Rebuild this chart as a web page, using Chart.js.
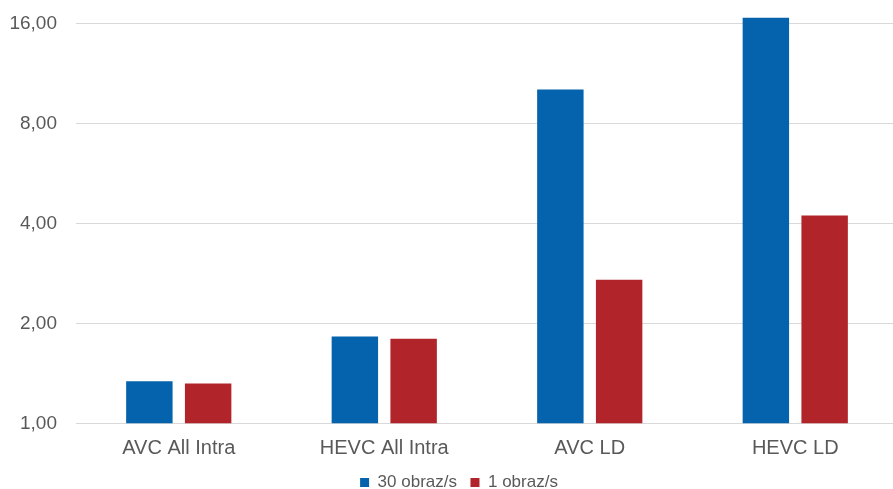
<!DOCTYPE html>
<html>
<head>
<meta charset="utf-8">
<script src="https://cdn.jsdelivr.net/npm/chart.js@4/dist/chart.umd.min.js"></script>
<style>
  html, body { margin: 0; padding: 0; background: #ffffff; overflow: hidden; }
  #wrap { position: relative; width: 917px; height: 536px; margin-top: -31px; }
</style>
</head>
<body>
<div id="wrap"><canvas id="chart"></canvas></div>
<script>
// Categories (encoding configurations)
const categories = ['AVC All Intra', 'HEVC All Intra', 'AVC LD', 'HEVC LD'];

// Series values
const fps30 = [1.34, 1.83, 10.15, 16.7];
const fps1 = [1.32, 1.80, 2.71, 4.23];

// Series names
const seriesNames = ['30 obraz/s', '1 obraz/s'];

// Y-axis tick values and their labels
const tickValues = [1, 2, 4, 8, 16];
const tickLabels = ['1,00', '2,00', '4,00', '8,00', '16,00'];

const textColor = '#595959';
const gridColor = '#d9d9d9';
const fontFamily = '"Liberation Sans", Arial, sans-serif';

// Nudges the legend a little to the right of the layout centre
const legendShift = {
  id: 'legendShift',
  afterLayout(chart) {
    const lg = chart.legend;
    if (lg) { lg.left += 10; lg.right += 10; }
  }
};

new Chart(document.getElementById('chart'), {
  type: 'bar',
  data: {
    labels: categories,
    datasets: [
      { label: seriesNames[0], data: fps30, backgroundColor: '#0563ad' },
      { label: seriesNames[1], data: fps1, backgroundColor: '#b0242a' }
    ]
  },
  plugins: [legendShift],
  options: {
    responsive: true,
    maintainAspectRatio: false,
    animation: false,
    devicePixelRatio: 1,
    layout: { padding: { top: 0, right: 19, bottom: 4, left: 0 } },
    datasets: { bar: { categoryPercentage: 0.572, barPercentage: 0.79 } },
    plugins: {
      tooltip: { enabled: false },
      legend: {
        position: 'bottom',
        labels: {
          color: textColor,
          font: { family: fontFamily, size: 17 },
          boxWidth: 9,
          boxHeight: 9,
          padding: 13.5
        }
      }
    },
    scales: {
      x: {
        afterFit: (scale) => { scale.height = 37; },
        grid: { display: false, drawTicks: false },
        border: { display: true, color: gridColor, width: 1 },
        ticks: {
          color: textColor,
          font: { family: fontFamily, size: 20 },
          padding: 13
        }
      },
      y: {
        type: 'logarithmic',
        bounds: 'data',
        min: 1,
        max: 18.96,
        afterFit: (scale) => { scale.width = 76; },
        afterBuildTicks: (scale) => {
          scale.ticks = tickValues.map(v => ({ value: v }));
        },
        grid: { color: gridColor, lineWidth: 1, drawTicks: false },
        border: { display: false },
        ticks: {
          color: textColor,
          font: { family: fontFamily, size: 19 },
          padding: 19,
          callback: (value) => {
            const i = tickValues.indexOf(Number(value));
            return i >= 0 ? tickLabels[i] : '';
          }
        }
      }
    }
  }
});
</script>
</body>
</html>
